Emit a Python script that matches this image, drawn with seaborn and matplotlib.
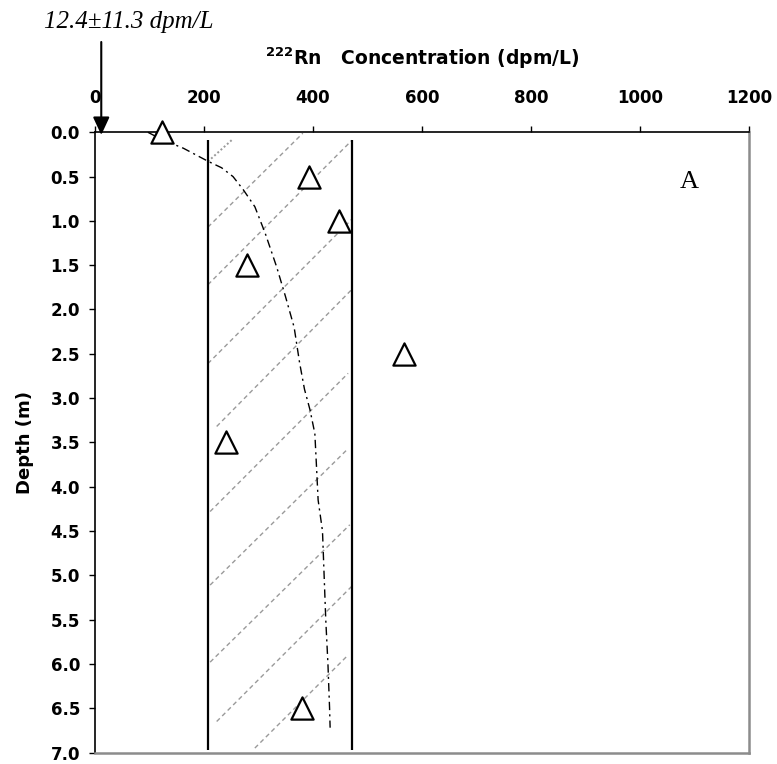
import matplotlib
matplotlib.use("Agg")
import matplotlib.pyplot as plt
import seaborn as sns
from matplotlib.ticker import FormatStrFormatter, MultipleLocator

# Measured 222Rn in the sediment column
sample_conc = [123, 394, 448, 279, 567, 242, 380]
sample_depth = [0.0, 0.5, 1.0, 1.5, 2.5, 3.5, 6.5]

# Modelled profile (dash-dot curve)
model_conc = [98, 123, 163, 209, 233, 254, 273, 294, 313, 334, 350, 366,
              376, 385, 395, 404, 407, 410, 418, 421, 424, 428, 431, 432]
model_depth = [0.0, 0.08, 0.18, 0.33, 0.40, 0.50, 0.65, 0.84, 1.14, 1.52, 1.85, 2.20,
               2.60, 2.90, 3.13, 3.40, 3.77, 4.15, 4.50, 5.00, 5.50, 6.00, 6.50, 6.72]

# Range band (mean ± 1 sd) shown as the boxed, hatched area
band_low = 208
band_high = 472
band_top = 0.09
band_bottom = 6.97

# Hatch strokes inside the band: start (conc, depth) -> end (conc, depth)
hatch_x0 = [208, 208, 208, 224, 212, 212, 212, 224, 294]
hatch_d0 = [1.07, 1.72, 2.61, 3.32, 4.28, 5.11, 5.98, 6.65, 6.95]
hatch_x1 = [382, 472, 472, 474, 465, 465, 468, 474, 465]
hatch_d1 = [0.01, 0.09, 0.98, 1.76, 2.72, 3.57, 4.43, 5.11, 5.90]
# short dotted stroke near the surface
dot_x = [208, 253]
dot_d = [0.33, 0.08]

# Surface-water value
surface_value = 12.4
surface_sd = 11.3

x_ticks = [0, 200, 400, 600, 800, 1000, 1200]

sns.set_theme(style="white")
plt.rcParams["font.family"] = ["DejaVu Sans"]
plt.rcParams["font.weight"] = "bold"
plt.rcParams["mathtext.fontset"] = "dejavusans"

W, H = 777, 764
fig = plt.figure(figsize=(W / 100, H / 100), dpi=100)
fig.patch.set_facecolor("white")
ax = fig.add_axes([94.5 / W, 1 - 752.5 / H, (749 - 94.5) / W, (752.5 - 132.3) / H])
ax.set_facecolor("white")

# hatching of the band
for x0, d0, x1, d1 in zip(hatch_x0, hatch_d0, hatch_x1, hatch_d1):
    ax.plot([x0, x1], [d0, d1], color="#9a9a9a", lw=1.0,
            linestyle=(0, (3.2, 2.4)), zorder=1)
ax.plot(dot_x, dot_d, color="#9a9a9a", lw=1.4, linestyle=(0, (1, 1.2)), zorder=1)

# band edges
ax.vlines([band_low, band_high], band_top, band_bottom, color="black", lw=1.6, zorder=2)

# model curve
sns.lineplot(x=model_conc, y=model_depth, sort=False, estimator=None, ax=ax,
             color="black", lw=1.0, linestyle=(0, (6, 3, 1.5, 3)), zorder=3)

# samples
sns.scatterplot(x=sample_conc, y=sample_depth, ax=ax, marker="^", s=16 ** 2,
                color="white", edgecolor="black", linewidth=1.6, zorder=5,
                clip_on=False)

ax.set_xlim(0, 1200)
ax.set_ylim(7, 0)
ax.set_xticks(x_ticks)
ax.yaxis.set_major_locator(MultipleLocator(0.5))
ax.yaxis.set_major_formatter(FormatStrFormatter("%.1f"))
ax.xaxis.set_ticks_position("top")
ax.tick_params(axis="x", which="major", direction="out", length=4, width=1,
               color="black", top=True, bottom=False, labeltop=True,
               labelbottom=False, pad=14, labelsize=12, labelcolor="black")
ax.tick_params(axis="y", which="major", direction="out", length=4, width=1,
               color="black", left=True, right=False, pad=6.5, labelsize=12,
               labelcolor="black")
for lab in ax.get_xticklabels() + ax.get_yticklabels():
    lab.set_fontweight("bold")

for side in ("top", "left"):
    ax.spines[side].set_color("black")
    ax.spines[side].set_linewidth(1.2)
for side in ("right", "bottom"):
    ax.spines[side].set_color("#8c8c8c")
    ax.spines[side].set_linewidth(1.8)

ax.set_xlabel("")
ax.set_ylabel("Depth (m)", fontsize=13, fontweight="bold", labelpad=11.5, color="black")

fig.text(422 / W, 1 - 65 / H, r"$^{\mathbf{222}}$Rn   Concentration (dpm/L)",
         ha="center", va="baseline", fontsize=13.5, fontweight="bold", color="black")

fig.text(128.5 / W, 1 - 28.3 / H, f"{surface_value}±{surface_sd} dpm/L",
         family="Liberation Serif", style="italic", fontweight="normal",
         fontsize=18, ha="center", va="baseline", color="black")

ax.annotate("", xy=(surface_value, 0.03), xytext=(surface_value, H - 42),
            textcoords=("data", "figure pixels"), annotation_clip=False,
            arrowprops=dict(arrowstyle="-|>,head_length=0.54,head_width=0.25",
                            color="black", lw=1.5, shrinkA=0, shrinkB=0,
                            mutation_scale=20))

ax.text(0.908, 0.910, "A", transform=ax.transAxes, family="Liberation Serif",
        fontweight="normal", fontsize=19, ha="center", va="baseline", color="black")

fig.savefig("out.png", dpi=100, facecolor="white")
